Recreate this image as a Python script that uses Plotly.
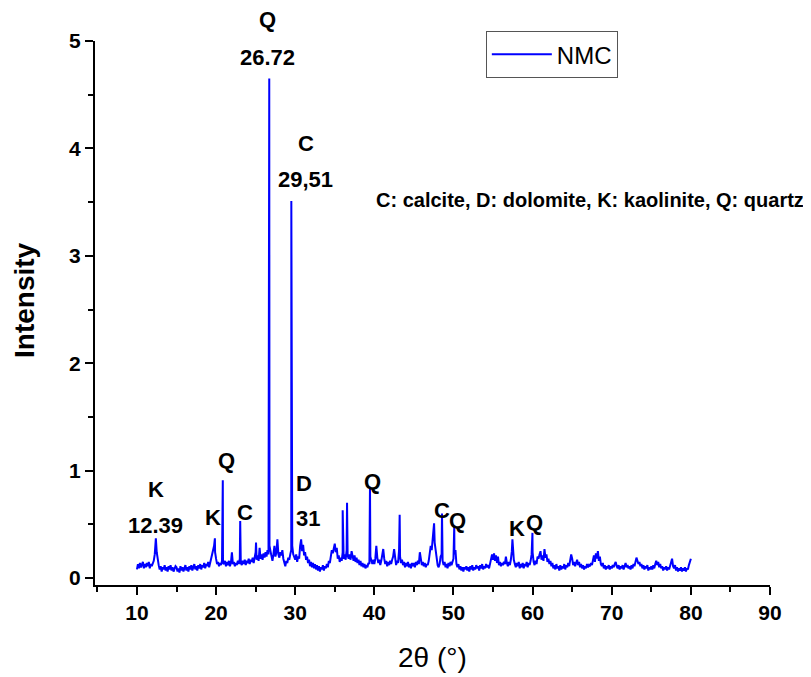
import plotly.graph_objects as go

# ---- data: baseline read on a 0.125 deg grid, one row per 5 deg (40 values each) ----
grid_step = 0.125
row_starts = [10, 15, 20, 25, 30, 35, 40, 45, 50, 55, 60, 65, 70, 75]
baseline_rows = [
    [0.08, 0.13, 0.09, 0.14, 0.10, 0.12, 0.15, 0.09, 0.13, 0.10, 0.14, 0.11, 0.15, 0.09, 0.13, 0.11, 0.14, 0.16, 0.22, 0.30,
     0.24, 0.15, 0.12, 0.08, 0.11, 0.06, 0.10, 0.08, 0.12, 0.07, 0.10, 0.06, 0.11, 0.08, 0.12, 0.07, 0.10, 0.06, 0.09, 0.11],
    [0.10, 0.06, 0.09, 0.05, 0.11, 0.07, 0.10, 0.06, 0.09, 0.12, 0.07, 0.10, 0.06, 0.11, 0.08, 0.12, 0.07, 0.10, 0.13, 0.08,
     0.11, 0.07, 0.12, 0.09, 0.13, 0.08, 0.12, 0.10, 0.14, 0.09, 0.13, 0.11, 0.15, 0.10, 0.14, 0.17, 0.21, 0.26, 0.30, 0.24],
    [0.18, 0.13, 0.15, 0.11, 0.14, 0.12, 0.16, 0.14, 0.13, 0.16, 0.11, 0.15, 0.12, 0.16, 0.11, 0.14, 0.24, 0.13, 0.15, 0.11,
     0.14, 0.12, 0.16, 0.13, 0.18, 0.14, 0.12, 0.16, 0.13, 0.17, 0.12, 0.16, 0.14, 0.18, 0.13, 0.17, 0.15, 0.19, 0.14, 0.20],
    [0.24, 0.17, 0.21, 0.16, 0.28, 0.18, 0.22, 0.17, 0.23, 0.19, 0.24, 0.20, 0.26, 0.22, 0.30, 0.25, 0.20, 0.16, 0.22, 0.30,
     0.20, 0.24, 0.36, 0.22, 0.19, 0.24, 0.21, 0.26, 0.18, 0.15, 0.11, 0.16, 0.14, 0.19, 0.17, 0.22, 0.26, 0.30, 0.22, 0.19],
    [0.17, 0.22, 0.15, 0.20, 0.18, 0.30, 0.36, 0.25, 0.31, 0.21, 0.24, 0.17, 0.20, 0.14, 0.17, 0.11, 0.15, 0.10, 0.14, 0.09,
     0.13, 0.08, 0.12, 0.07, 0.11, 0.06, 0.10, 0.08, 0.12, 0.07, 0.11, 0.09, 0.13, 0.10, 0.16, 0.14, 0.21, 0.26, 0.23, 0.30],
    [0.32, 0.24, 0.28, 0.18, 0.21, 0.15, 0.19, 0.16, 0.24, 0.18, 0.22, 0.17, 0.26, 0.21, 0.18, 0.22, 0.17, 0.25, 0.20, 0.16,
     0.21, 0.15, 0.19, 0.14, 0.17, 0.12, 0.16, 0.11, 0.14, 0.10, 0.13, 0.09, 0.12, 0.10, 0.14, 0.13, 0.20, 0.16, 0.13, 0.17],
    [0.13, 0.18, 0.30, 0.19, 0.14, 0.17, 0.12, 0.16, 0.20, 0.27, 0.18, 0.13, 0.16, 0.11, 0.15, 0.12, 0.16, 0.13, 0.17, 0.20,
     0.27, 0.15, 0.12, 0.16, 0.14, 0.26, 0.20, 0.14, 0.17, 0.12, 0.15, 0.10, 0.14, 0.11, 0.15, 0.10, 0.13, 0.09, 0.14, 0.11],
    [0.14, 0.10, 0.15, 0.12, 0.16, 0.13, 0.24, 0.16, 0.12, 0.15, 0.11, 0.14, 0.10, 0.13, 0.12, 0.16, 0.22, 0.30, 0.26, 0.36,
     0.42, 0.33, 0.24, 0.17, 0.12, 0.10, 0.13, 0.20, 0.22, 0.16, 0.12, 0.15, 0.10, 0.13, 0.09, 0.14, 0.11, 0.15, 0.12, 0.16],
    [0.18, 0.22, 0.26, 0.13, 0.10, 0.13, 0.08, 0.11, 0.07, 0.10, 0.06, 0.10, 0.08, 0.11, 0.07, 0.10, 0.06, 0.11, 0.08, 0.12,
     0.07, 0.10, 0.08, 0.12, 0.09, 0.11, 0.07, 0.12, 0.09, 0.13, 0.08, 0.11, 0.09, 0.13, 0.10, 0.12, 0.09, 0.14, 0.18, 0.22],
    [0.17, 0.23, 0.16, 0.21, 0.14, 0.20, 0.12, 0.15, 0.11, 0.14, 0.12, 0.15, 0.13, 0.20, 0.14, 0.11, 0.15, 0.12, 0.17, 0.25,
     0.28, 0.17, 0.13, 0.10, 0.14, 0.11, 0.15, 0.09, 0.13, 0.10, 0.14, 0.09, 0.13, 0.11, 0.15, 0.10, 0.14, 0.12, 0.16, 0.22],
    [0.24, 0.15, 0.12, 0.16, 0.13, 0.20, 0.18, 0.22, 0.25, 0.17, 0.21, 0.16, 0.27, 0.19, 0.22, 0.15, 0.18, 0.13, 0.16, 0.11,
     0.14, 0.09, 0.12, 0.08, 0.13, 0.09, 0.11, 0.07, 0.12, 0.08, 0.11, 0.09, 0.13, 0.08, 0.12, 0.10, 0.14, 0.11, 0.16, 0.22],
    [0.18, 0.12, 0.15, 0.11, 0.14, 0.17, 0.12, 0.15, 0.10, 0.13, 0.09, 0.12, 0.08, 0.11, 0.09, 0.13, 0.10, 0.12, 0.11, 0.14,
     0.12, 0.16, 0.21, 0.15, 0.23, 0.18, 0.25, 0.16, 0.20, 0.13, 0.11, 0.14, 0.09, 0.12, 0.08, 0.11, 0.09, 0.12, 0.08, 0.11],
    [0.09, 0.12, 0.10, 0.13, 0.15, 0.11, 0.09, 0.12, 0.08, 0.11, 0.09, 0.12, 0.08, 0.11, 0.14, 0.10, 0.12, 0.09, 0.11, 0.08,
     0.12, 0.09, 0.13, 0.11, 0.15, 0.19, 0.16, 0.13, 0.15, 0.11, 0.13, 0.09, 0.12, 0.08, 0.11, 0.09, 0.12, 0.07, 0.10, 0.08],
    [0.11, 0.08, 0.12, 0.09, 0.13, 0.16, 0.12, 0.15, 0.10, 0.13, 0.09, 0.11, 0.07, 0.10, 0.08, 0.11, 0.07, 0.10, 0.08, 0.11,
     0.13, 0.18, 0.11, 0.09, 0.12, 0.07, 0.10, 0.06, 0.09, 0.07, 0.10, 0.06, 0.09, 0.07, 0.10, 0.06, 0.09, 0.08, 0.12, 0.15],
]
end_x = 80.0
end_y = 0.18

# sharp reflections (2theta, intensity)
peak_pos = [12.39, 19.85, 20.85, 23.05, 25.05, 26.72, 29.51, 36.00, 36.55, 39.45, 43.20, 47.55, 48.55, 50.10, 57.45, 59.98]
peak_int = [0.37, 0.37, 0.91, 0.53, 0.33, 4.65, 3.51, 0.63, 0.70, 0.85, 0.59, 0.51, 0.60, 0.49, 0.36, 0.42]

# phase labels: text, 2theta position, intensity position
label_text = ["Q", "26.72", "C", "29,51", "K", "12.39", "K", "Q", "C", "D", "31", "Q", "C", "Q", "K", "Q"]
label_x = [26.56, 26.56, 31.36, 31.36, 12.36, 12.36, 19.60, 21.34, 23.65, 31.10, 31.57, 39.83, 48.55, 50.57, 58.03, 60.30]
label_y = [5.20, 4.85, 4.05, 3.71, 0.82, 0.49, 0.56, 1.09, 0.61, 0.88, 0.55, 0.90, 0.63, 0.54, 0.46, 0.52]

x_ticks = [10, 20, 30, 40, 50, 60, 70, 80, 90]
y_ticks = [0, 1, 2, 3, 4, 5]
x_range = [4.7, 90]
y_range = [-0.065, 5]

# ---- build series ----
pts = []
for start, row in zip(row_starts, baseline_rows):
    pts += [(start + i * grid_step, v) for i, v in enumerate(row)]
pts.append((end_x, end_y))
pts += list(zip(peak_pos, peak_int))
pts.sort(key=lambda p: p[0])
xs = [p[0] for p in pts]
ys = [p[1] for p in pts]

FONT = "Liberation Sans, Arial, sans-serif"


def ypaper(v):
    return (v - y_range[0]) / (y_range[1] - y_range[0])


fig = go.Figure()
fig.add_trace(go.Scatter(x=xs, y=ys, mode="lines", name="NMC",
                         line=dict(color="#0000ff", width=2)))

for t, lx, ly in zip(label_text, label_x, label_y):
    fig.add_annotation(x=lx, y=ypaper(ly), text=f"<b>{t}</b>", showarrow=False,
                       xref="x", yref="paper", xanchor="center", yanchor="middle",
                       font=dict(family=FONT, size=22, color="black"))

fig.add_annotation(x=0.733, y=0.708, xref="paper", yref="paper",
                   xanchor="center", yanchor="middle",
                   text="<b>C: calcite, D: dolomite, K: kaolinite, Q: quartz</b>",
                   showarrow=False, font=dict(family=FONT, size=20, color="black"))

# axis titles
fig.add_annotation(x=-0.1037, y=0.524, xref="paper", yref="paper", textangle=-90,
                   xanchor="center", yanchor="middle",
                   text="<b>Intensity</b>", showarrow=False,
                   font=dict(family=FONT, size=28, color="black"))
fig.add_annotation(x=0.5, y=-0.134, xref="paper", yref="paper",
                   xanchor="center", yanchor="middle",
                   text="2θ (°)", showarrow=False,
                   font=dict(family=FONT, size=28, color="black"))

fig.update_layout(
    width=803, height=669,
    margin=dict(l=87, r=41, t=33, b=92, autoexpand=False),
    paper_bgcolor="white", plot_bgcolor="white",
    font=dict(family=FONT, color="black"),
    showlegend=True,
    legend=dict(x=0.579, y=1.018, xanchor="left", yanchor="top",
                bordercolor="#555555", borderwidth=1, bgcolor="white",
                font=dict(family=FONT, size=24, color="black"),
                itemwidth=60, tracegroupgap=0),
    xaxis=dict(range=x_range, tickvals=x_ticks, ticktext=[f"<b>{v}</b>" for v in x_ticks],
               showline=True, linecolor="black", linewidth=2,
               ticks="outside", ticklen=8, tickwidth=2, tickcolor="black",
               minor=dict(ticks="outside", dtick=5, tick0=0, ticklen=5, tickwidth=2, tickcolor="black"),
               showgrid=False, zeroline=False,
               tickfont=dict(family=FONT, size=21, color="black")),
    yaxis=dict(range=y_range, tickvals=y_ticks, ticktext=[f"<b>{v}</b>" for v in y_ticks],
               showline=True, linecolor="black", linewidth=2,
               ticks="outside", ticklen=8, tickwidth=2, tickcolor="black",
               minor=dict(ticks="outside", dtick=0.5, tick0=0, ticklen=5, tickwidth=2, tickcolor="black"),
               showgrid=False, zeroline=False,
               tickfont=dict(family=FONT, size=21, color="black")),
)

fig.write_html("out.html")
